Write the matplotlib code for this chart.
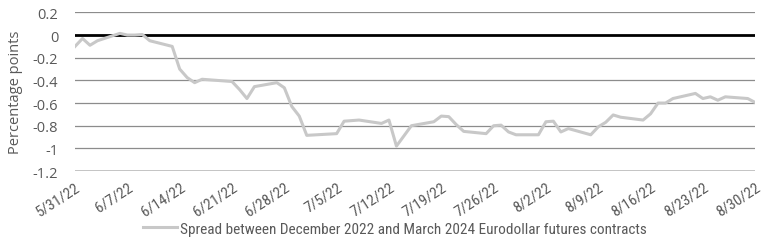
import matplotlib
matplotlib.use("Agg")
import matplotlib.pyplot as plt
import matplotlib.dates as mdates
import pandas as pd

dates = ["2022-05-31","2022-06-01","2022-06-02","2022-06-03","2022-06-06","2022-06-07","2022-06-08",
         "2022-06-09","2022-06-10","2022-06-13","2022-06-14","2022-06-15","2022-06-16","2022-06-17",
         "2022-06-21","2022-06-22","2022-06-23","2022-06-24","2022-06-27","2022-06-28","2022-06-29",
         "2022-06-30","2022-07-01","2022-07-05","2022-07-06","2022-07-07","2022-07-08","2022-07-11",
         "2022-07-12","2022-07-13","2022-07-14","2022-07-15","2022-07-18","2022-07-19","2022-07-20",
         "2022-07-21","2022-07-22","2022-07-25","2022-07-26","2022-07-27","2022-07-28","2022-07-29",
         "2022-08-01","2022-08-02","2022-08-03","2022-08-04","2022-08-05","2022-08-08","2022-08-09",
         "2022-08-10","2022-08-11","2022-08-12","2022-08-15","2022-08-16","2022-08-17","2022-08-18",
         "2022-08-19","2022-08-22","2022-08-23","2022-08-24","2022-08-25","2022-08-26","2022-08-29",
         "2022-08-30"]
spread = [-0.10,-0.03,-0.09,-0.05,0.015,0.00,0.00,
          0.005,-0.05,-0.10,-0.30,-0.375,-0.42,-0.39,
          -0.41,-0.48,-0.56,-0.455,-0.42,-0.465,-0.63,
          -0.715,-0.885,-0.87,-0.76,-0.755,-0.75,-0.78,
          -0.75,-0.98,-0.89,-0.80,-0.765,-0.715,-0.72,
          -0.79,-0.85,-0.87,-0.80,-0.795,-0.855,-0.88,
          -0.88,-0.765,-0.76,-0.855,-0.825,-0.88,-0.81,
          -0.77,-0.705,-0.725,-0.75,-0.695,-0.60,-0.60,
          -0.56,-0.515,-0.56,-0.545,-0.575,-0.545,-0.56,
          -0.595]
tick_dates = pd.date_range("2022-05-31", "2022-08-30", freq="7D")
tick_labels = [f"{d.month}/{d.day}/22" for d in tick_dates]
y_ticks = [0.2, 0, -0.2, -0.4, -0.6, -0.8, -1, -1.2]
y_labels = ["0.2", "0", "-0.2", "-0.4", "-0.6", "-0.8", "-1", "-1.2"]
series_name = "Spread between December 2022 and March 2024 Eurodollar futures contracts"

plt.rcParams['font.family'] = ['Open Sans', 'DejaVu Sans']
cond = ['Roboto Condensed', 'Open Sans', 'DejaVu Sans']
fig = plt.figure(figsize=(7.8, 2.53), dpi=100)
ax = fig.add_axes([0.0962, 0.320, 0.872, 0.627])

x = pd.to_datetime(dates)
for yv in y_ticks:
    if yv == 0:
        ax.axhline(yv, color="black", lw=2.0, zorder=2)
    elif yv == -1.2:
        ax.axhline(yv, color="#bfbfbf", lw=2.0, zorder=2)
    else:
        ax.axhline(yv, color="#8c8c8c", lw=0.9, zorder=1)

ax.plot(x, spread, color="#c8c8c8", lw=2.2, zorder=3, label=series_name)

ax.set_xlim(pd.Timestamp("2022-05-31"), pd.Timestamp("2022-08-30"))
ax.set_ylim(-1.2, 0.2)
ax.set_yticks(y_ticks)
ax.set_yticklabels(y_labels)
ax.set_xticks(tick_dates)
ax.set_xticklabels(tick_labels, rotation=33, ha="right", rotation_mode="anchor",
                   family=cond, fontsize=11)
for s in ax.spines.values():
    s.set_visible(False)
ax.tick_params(axis="both", length=0, colors="#595959")
ax.tick_params(axis="y", pad=12, labelsize=10.5)
ax.tick_params(axis="x", pad=6)
ax.set_ylabel("Percentage points", color="#595959", fontsize=10.5, labelpad=7)

fig.legend(loc="center", bbox_to_anchor=(0.506, 0.092), frameon=False,
           prop={"family": cond, "size": 11},
           labelcolor="#595959", handlelength=2.2, handletextpad=0.2)
fig.savefig("out.png", dpi=100, facecolor="white")
